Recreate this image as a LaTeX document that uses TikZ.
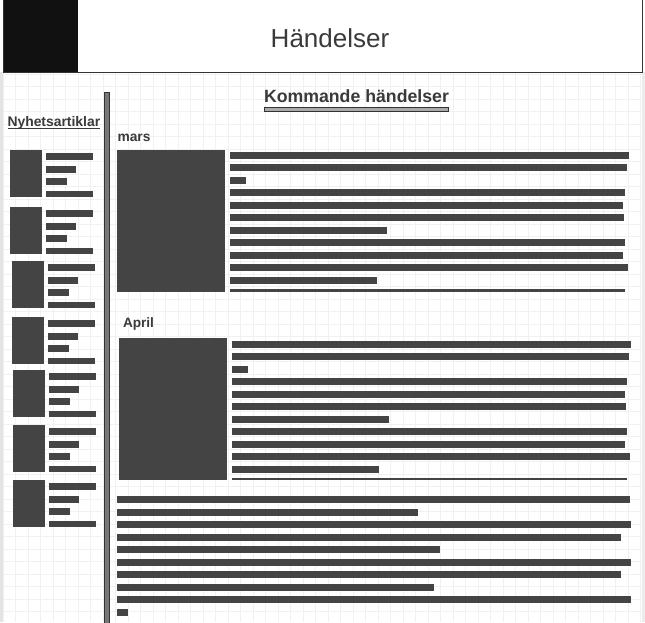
\documentclass[tikz,border=0pt]{standalone}
\usepackage{fontspec}
\setmainfont{Liberation Sans}
\definecolor{barc}{HTML}{444444}
\definecolor{txtc}{HTML}{3A3A3A}
\definecolor{gridc}{HTML}{F1F1F1}
\definecolor{edgec}{HTML}{333333}
\definecolor{sidec}{HTML}{E4E4E4}
\definecolor{blk}{HTML}{111111}
\definecolor{divc}{HTML}{777777}
\definecolor{rulec}{HTML}{AAAAAA}
\begin{document}
\begin{tikzpicture}[x=1pt,y=-1pt,
  bar/.style={fill=barc},
  pic/.style={fill=barc},
  lbl/.style={inner sep=0pt, outer sep=0pt, text=txtc, font=\bfseries},
  gridline/.style={draw=gridc, line width=1pt}]
\useasboundingbox (0,0) rectangle (645,622);
\fill[white] (0,0) rectangle (645,622);
% grid
\foreach \i in {0,...,51} \draw[gridline] ({3.2+12.5*\i},72) -- ({3.2+12.5*\i},622);
\foreach \j in {5,...,48} \draw[gridline] (3,{11.5+12.5*\j}) -- (642,{11.5+12.5*\j});
% page edges
\fill[sidec] (0,72) rectangle (3,622);
\fill[sidec!70!white] (642,72) rectangle (645,622);
% header
\draw[edgec, fill=white, line width=1pt] (3,-2) rectangle (642,72);
\fill[blk] (3.5,-2) rectangle (78,71.5);
\node[inner sep=0pt, text=txtc, font=\fontsize{26}{30}\selectfont, anchor=base] (title) at (330,47.7) {Händelser};
% section heading
\node[lbl, font=\bfseries\fontsize{17.7}{20}\selectfont, anchor=base west] (kh) at (264,102) {Kommande händelser};
\draw[edgec, fill=rulec, line width=1pt] (264,107.5) rectangle (448,111.5);
% divider
\draw[edgec, fill=divc, line width=1pt] (104.5,92.5) rectangle (109.5,624);
% sidebar heading
\node[lbl, font=\bfseries\fontsize{13.9}{16}\selectfont, anchor=base west] (ny) at (7.5,126) {Nyhetsartiklar};
\draw[txtc, line width=1pt] ([yshift=-2pt]ny.base west) -- ([yshift=-2pt]ny.base east);
% sidebar items
\foreach \x/\y in {10/150, 10/207, 12/261, 12/317, 13/370, 13/425, 13/480} {
  \fill[pic] (\x,\y) rectangle ({\x+31.5},{\y+47});
  \fill[bar] ({\x+35.5},{\y+3}) rectangle ({\x+83},{\y+10});
  \fill[bar] ({\x+35.5},{\y+16}) rectangle ({\x+66},{\y+23});
  \fill[bar] ({\x+35.5},{\y+28}) rectangle ({\x+57},{\y+35});
  \fill[bar] ({\x+35.5},{\y+41}) rectangle ({\x+83},{\y+47});
}
% mars
\node[lbl, font=\bfseries\fontsize{13.8}{16}\selectfont, anchor=base west] (mars) at (117.5,141) {mars};
\fill[pic] (117,150) rectangle (225,292);
\foreach \t/\r in {152/629, 164/627, 177/246, 189/625, 202/623, 214/624, 227/387, 239/625, 252/623, 264/628, 277/377} {
  \fill[bar] (230,\t) rectangle (\r,{\t+7});
}
\fill[bar] (230,289) rectangle (625,292);
% April
\node[lbl, font=\bfseries\fontsize{13.6}{16}\selectfont, anchor=base west] (april) at (123,327) {April};
\fill[pic] (119,338) rectangle (227,480);
\foreach \t/\r in {341/631, 353/629, 366/248, 378/627, 391/625, 403/626, 416/389, 428/627, 441/625, 453/630, 466/379} {
  \fill[bar] (232,\t) rectangle (\r,{\t+7});
}
\fill[bar] (232,478) rectangle (627,480);
% bottom text
\foreach \t/\r in {496/630, 509/418, 521/631, 534/621, 546/440, 559/631, 571/621, 584/434, 596/631, 609/128} {
  \fill[bar] (117,\t) rectangle (\r,{\t+7});
}
\end{tikzpicture}
\end{document}
